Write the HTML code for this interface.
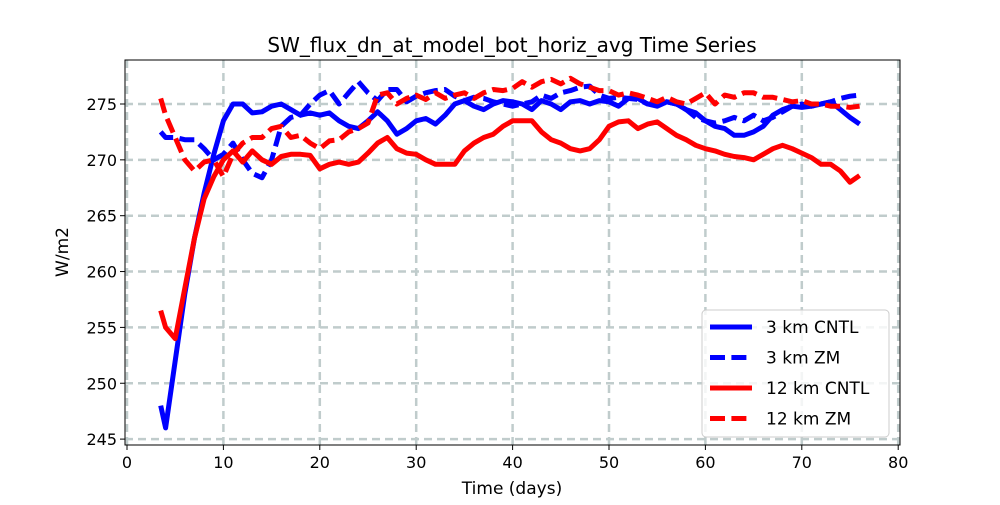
<!DOCTYPE html>
<html><head><meta charset="utf-8"><style>
body{margin:0;background:#fff;font-family:"Liberation Sans","DejaVu Sans",sans-serif}
svg text{font-family:"DejaVu Sans","Liberation Sans",sans-serif}
</style></head><body>
<svg id="chart" width="1000" height="500" xmlns="http://www.w3.org/2000/svg">
<rect width="1000" height="500" fill="#fff"/>
<text x="512" y="52" font-size="20" text-anchor="middle">SW_flux_dn_at_model_bot_horiz_avg Time Series</text>
<g id="grid"></g><g id="ticks"></g>
<g id="series" clip-path="url(#clip)"></g>
<clipPath id="clip"><rect x="125" y="60" width="775" height="385"/></clipPath>
<rect x="125" y="60" width="775" height="385" fill="none" stroke="#000" stroke-width="1"/>
<text x="512" y="494" font-size="17" text-anchor="middle">Time (days)</text>
<text transform="translate(68,252) rotate(-90)" font-size="17" text-anchor="middle">W/m2</text>
<g id="legend">
<rect x="702" y="310" width="187" height="127" rx="4" fill="#fff" fill-opacity="0.8" stroke="#ccc"/>
</g>
</svg>
<script>
const days=[3.5,4,5,6,7,8,9,10,11,12,13,14,15,16,17,18,19,20,21,22,23,24,25,26,27,28,29,30,31,32,33,34,35,36,37,38,39,40,41,42,43,44,45,46,47,48,49,50,51,52,53,54,55,56,57,58,59,60,61,62,63,64,65,66,67,68,69,70,71,72,73,74,75,76];
const cntl3=[248,246,252,258,263,267,270.5,273.5,275,275,274.2,274.3,274.8,275,274.5,274,274.2,274,274.2,273.5,273,272.8,273.5,274.3,273.5,272.3,272.8,273.5,273.7,273.2,274,275,275.3,274.8,274.5,275,275.3,275.2,275,274.5,275.3,275,274.5,275.2,275.3,275,275.3,275.2,274.8,275.5,275.5,275,274.8,275.2,275,274.5,274.2,273.5,273,272.8,272.2,272.2,272.5,273,274,274.5,274.8,274.7,274.8,275,275.2,274.5,273.8,273.2];
const zm3=[272.5,272,272,271.8,271.8,271,270,270.5,271.5,270,268.8,268.4,270,273,273.8,274,275,275.8,276.2,275,276,277,276,275.3,276.3,276.3,275.2,275.7,276,276.2,276.3,275.7,275.3,275.6,275.5,275.2,275,274.8,275,275.2,275.8,275.5,276,276.2,276.5,276.6,275.8,275.5,275.6,275.5,275.4,275,275,275.2,275,274.5,273.8,273.5,273.3,273.5,273.8,273.5,274,273.5,273.8,274.3,274.8,275,274.8,275,275.2,275.5,275.7,275.8];
const cntl12=[256.5,255,254,258.5,263,266.5,268.5,270,270.8,269.8,270.8,270,269.6,270.3,270.5,270.5,270.4,269.2,269.6,269.8,269.6,269.8,270.6,271.5,272,271,270.6,270.5,270,269.6,269.6,269.6,270.8,271.5,272,272.3,273,273.5,273.5,273.5,272.5,271.8,271.5,271,270.8,271,271.8,273,273.4,273.5,272.8,273.2,273.4,272.8,272.2,271.8,271.3,271,270.8,270.5,270.3,270.2,270,270.5,271,271.3,271,270.6,270.2,269.6,269.6,269,268,268.6];
const zm12=[275.5,274,272,270,269,269.8,270,268.5,270.5,271.5,272,272,272.8,273,272,272.2,271.5,271,271.7,271.8,272.5,272.8,273.3,275.8,276,275,275.5,275.8,275.4,276,275.5,275.8,276,275.5,276,276.3,276.2,276.4,277,276.5,277,277.2,276.8,277.3,276.8,276.5,276.2,276.2,275.8,276,275.8,275.5,275.2,275.6,275.2,275,275.5,276,275,275.8,275.6,276,276,275.6,275.6,275.4,275.2,275.3,275,275,274.8,274.8,274.7,274.8];
const xTicks=[0,10,20,30,40,50,60,70,80];
const yTicks=[245,250,255,260,265,270,275];
const seriesNames=["3 km CNTL","3 km ZM","12 km CNTL","12 km ZM"];
const X=d=>127+d*9.64;
const Y=v=>104+(275-v)*11.17;
const NS="http://www.w3.org/2000/svg";
function mk(t,a,p){const e=document.createElementNS(NS,t);for(const k in a)e.setAttribute(k,a[k]);p.appendChild(e);return e;}
const grid=document.getElementById('grid'),ticks=document.getElementById('ticks');
xTicks.forEach(t=>{
 const g=mk('line',{x1:X(t),x2:X(t),y1:60,y2:445,stroke:'#c0cccc','stroke-width':2.5,'stroke-dasharray':'8,5'},grid);
 
 
 mk('line',{x1:X(t),x2:X(t),y1:445,y2:450,stroke:'#000'},ticks);
 const tx=mk('text',{x:X(t),y:468,'font-size':16,'text-anchor':'middle'},ticks);tx.textContent=t;
 
 
});
yTicks.forEach(t=>{
 const g=mk('line',{x1:125,x2:900,y1:Y(t),y2:Y(t),stroke:'#c0cccc','stroke-width':2.5,'stroke-dasharray':'8,5'},grid);
 
 
 mk('line',{x1:120,x2:125,y1:Y(t),y2:Y(t),stroke:'#000'},ticks);
 const tx=mk('text',{x:117,y:Y(t)+6,'font-size':16,'text-anchor':'end'},ticks);tx.textContent=t;
 
 
});
const sg=document.getElementById('series');
const defs=[[cntl3,'#0000ff',null],[zm3,'#0000ff','15,6.4'],[cntl12,'#ff0000',null],[zm12,'#ff0000','15,6.4']];
const names=['line-3km-cntl','line-3km-zm','line-12km-cntl','line-12km-zm'];
defs.forEach((s,i)=>{
 const d=s[0].map((v,j)=>(j?'L':'M')+X(days[j]).toFixed(1)+','+Y(v).toFixed(1)).join('');
 const p=mk('path',{d:d,fill:'none',stroke:s[1],'stroke-width':5,'stroke-linejoin':'round'},sg);
 if(s[2])p.setAttribute('stroke-dasharray',s[2]);
 
 
});
const lg=document.getElementById('legend');
seriesNames.forEach((n,i)=>{
 const y=327+i*30.5;
 const l=mk('line',{x1:710,x2:752,y1:y,y2:y,stroke:defs[i][1],'stroke-width':5},lg);
 if(defs[i][2])l.setAttribute('stroke-dasharray','15,6.4');
 
 
 const t=mk('text',{x:766,y:y+6,'font-size':17},lg);t.textContent=n;
 
 
});
</script>
</body></html>
